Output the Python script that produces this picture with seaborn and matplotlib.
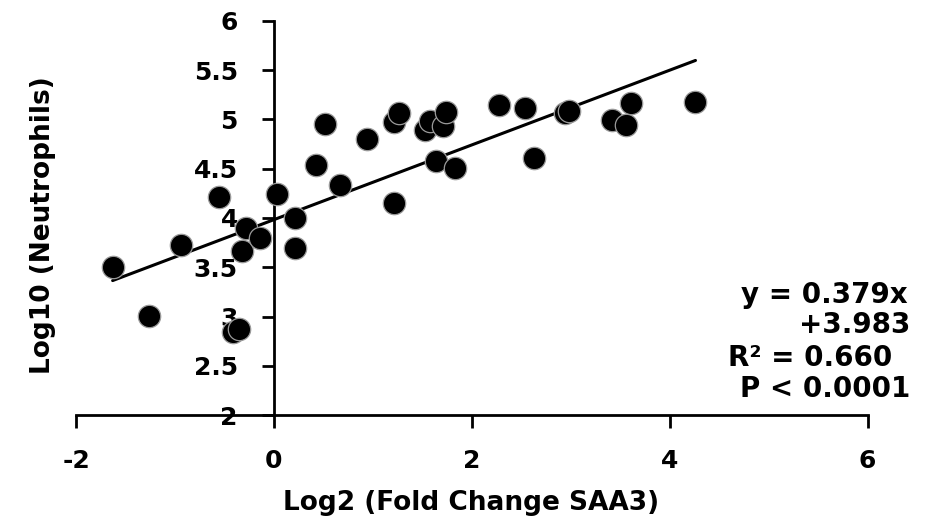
import matplotlib
matplotlib.use("Agg")
import matplotlib.pyplot as plt
import seaborn as sns
import numpy as np
import pandas as pd

# Data
log2_fold_change_saa3 = [-1.63, -1.26, -0.94, -0.56, -0.28, -0.32, -0.14, -0.41, -0.35,
                         0.03, 0.21, 0.21, 0.43, 0.52, 0.67, 0.94, 1.21, 1.21, 1.26,
                         1.53, 1.58, 1.71, 1.74, 1.64, 1.83, 2.27, 2.54, 2.63, 2.94,
                         2.98, 3.42, 3.61, 3.56, 4.26]
log10_neutrophils = [3.50, 3.01, 3.73, 4.21, 3.90, 3.67, 3.80, 2.84, 2.87,
                     4.24, 4.00, 3.70, 4.54, 4.95, 4.33, 4.80, 4.15, 4.97, 5.06,
                     4.89, 4.98, 4.93, 5.07, 4.58, 4.51, 5.15, 5.12, 4.61, 5.06,
                     5.08, 4.99, 5.17, 4.94, 5.18]
slope = 0.379
intercept = 3.983
fit_text = ["y = 0.379x", "+3.983", "R\u00b2 = 0.660", "P < 0.0001"]
x_ticks = [-2, 0, 2, 4, 6]
y_ticks = [2, 2.5, 3, 3.5, 4, 4.5, 5, 5.5, 6]
y_tick_labels = ["2", "2.5", "3", "3.5", "4", "4.5", "5", "5.5", "6"]
x_label = "Log2 (Fold Change SAA3)"
y_label = "Log10 (Neutrophils)"

sns.set_theme(style="white")
plt.rcParams['font.family'] = ['DejaVu Sans']
plt.rcParams['font.weight'] = 'bold'
plt.rcParams['text.color'] = 'black'
plt.rcParams['xtick.color'] = 'black'
plt.rcParams['ytick.color'] = 'black'
plt.rcParams['xtick.labelcolor'] = 'black'
plt.rcParams['ytick.labelcolor'] = 'black'

df = pd.DataFrame({"x": log2_fold_change_saa3, "y": log10_neutrophils})

fig = plt.figure(figsize=(9.27, 5.19), dpi=100)
ax = fig.add_axes([0.082, 0.2, 0.854, 0.76])

# regression line over the data range
xl = np.array([min(log2_fold_change_saa3), max(log2_fold_change_saa3)])
line_df = pd.DataFrame({"x": xl, "y": slope * xl + intercept})
sns.lineplot(data=line_df, x="x", y="y", ax=ax, color="black", linewidth=2.2, zorder=2)

sns.scatterplot(data=df, x="x", y="y", ax=ax, s=260, color="black",
                edgecolor="#9a9a9a", linewidth=0.9, zorder=3)

ax.set_xlim(-2, 6)
ax.set_ylim(2, 6)
ax.set_xticks(x_ticks)
ax.set_xticklabels([str(t) for t in x_ticks])
ax.set_yticks(y_ticks)
ax.set_yticklabels(y_tick_labels)

for s in ["top", "right"]:
    ax.spines[s].set_visible(False)
ax.spines["left"].set_position(("data", 0))
ax.spines["left"].set_linewidth(2)
ax.spines["bottom"].set_linewidth(2)
ax.spines["left"].set_color("black")
ax.spines["bottom"].set_color("black")

ax.tick_params(axis="x", direction="out", length=9, width=2, pad=15.5,
               labelsize=18, colors="black", bottom=True)
ax.tick_params(axis="y", direction="out", length=9, width=2, pad=17,
               labelsize=18, colors="black", left=True)
for lab in ax.get_xticklabels() + ax.get_yticklabels():
    lab.set_fontweight("bold")

ax.set_xlabel("")
ax.set_ylabel("")
fig.text(0.508, 0.0173, x_label, ha="center", va="baseline", fontsize=19,
         fontweight="bold", color="black")
fig.text(0.046, 0.566, y_label, ha="center", va="center", fontsize=19,
         fontweight="bold", rotation=90, color="black")

ann_x = [0.9795, 0.9824, 0.9620, 0.9824]
ann_y = [0.4168, 0.3578, 0.2948, 0.2345]
for t, xx, yy in zip(fit_text, ann_x, ann_y):
    fig.text(xx, yy, t, ha="right", va="baseline", fontsize=20,
             fontweight="bold", color="black")

fig.savefig("out.png", dpi=100)
